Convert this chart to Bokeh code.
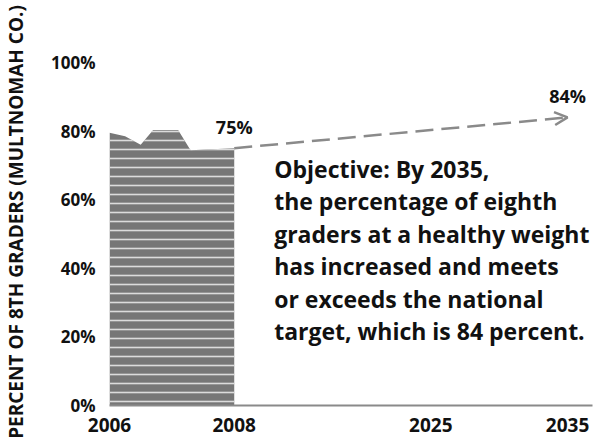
import numpy as np
from bokeh.plotting import figure
from bokeh.models import (FixedTicker, PrintfTickFormatter, Label, Arrow, OpenHead,
                          Range1d, ColumnDataSource)
from bokeh.embed import file_html
from bokeh.resources import INLINE

# ---- data ----
hist_years = [2006, 2006.25, 2006.5, 2006.7, 2007.1, 2007.3, 2008]
hist_values = [79.5, 78.5, 76.0, 80.3, 80.3, 74.4, 75.0]
target_years = [2008, 2035]
target_values = [75, 84]
tick_years = [2006, 2008, 2025, 2035]
y_ticks = [0, 20, 40, 60, 80, 100]
y_title = "PERCENT OF 8TH GRADERS (MULTNOMAH CO.)"
objective_lines = [
    "Objective: By 2035,",
    "the percentage of eighth",
    "graders at a healthy weight",
    "has increased and meets",
    "or exceeds the national",
    "target, which is 84 percent.",
]

# ---- non-linear axis layout (year -> axis position) ----
AXIS_STOPS = [0, 125, 322, 459]


def xpos(years):
    return np.interp(years, tick_years, AXIS_STOPS)


FONT = "Open Sans"
TXT = "#111111"
GRAY = "#777777"
LINE_GRAY = "#8a8a8a"

p = figure(width=596, height=441, output_backend="svg", toolbar_location=None,
           x_range=Range1d(0, 484), y_range=Range1d(0, 107),
           min_border_left=108, min_border_right=4, min_border_top=38,
           min_border_bottom=36)
p.outline_line_color = None
p.grid.visible = False
p.background_fill_color = "white"
p.border_fill_color = "white"

# historical area
src = ColumnDataSource(dict(x=xpos(hist_years), y=hist_values))
p.varea(x="x", y1=0, y2="y", source=src, fill_color=GRAY,
        hatch_pattern="horizontal_line", hatch_color="#dcdcdc",
        hatch_scale=9, hatch_weight=1.6)

# dashed target arrow
tx = xpos(target_years)
p.add_layout(Arrow(x_start=tx[0], y_start=target_values[0],
                   x_end=tx[1], y_end=target_values[1],
                   line_color=LINE_GRAY, line_width=2.5, line_dash="18 8",
                   end=OpenHead(size=13, line_color=LINE_GRAY, line_width=2.5)))

# value labels
for xv, yv in zip(tx, target_values):
    p.add_layout(Label(x=xv, y=yv, text=f"{yv}%", text_align="center",
                       text_baseline="alphabetic", y_offset=21,
                       text_font=FONT, text_font_style="bold",
                       text_font_size="18px", text_color=TXT))

# objective text
p.add_layout(Label(x=165, y=73.6, text="\n".join(objective_lines),
                   text_align="left", text_baseline="top",
                   text_font=FONT, text_font_style="bold",
                   text_font_size="23px", text_color=TXT,
                   text_line_height=1.013))

# axes
xa = p.xaxis[0]
xa.ticker = FixedTicker(ticks=AXIS_STOPS)
xa.major_label_overrides = {s: str(y) for s, y in zip(AXIS_STOPS, tick_years)}
xa.axis_line_color = LINE_GRAY
xa.axis_line_width = 2
xa.major_tick_line_color = None
xa.minor_tick_line_color = None
xa.major_label_standoff = 6
xa.major_label_text_font = FONT
xa.major_label_text_font_style = "bold"
xa.major_label_text_font_size = "19px"
xa.major_label_text_color = TXT

ya = p.yaxis[0]
ya.ticker = FixedTicker(ticks=y_ticks)
ya.formatter = PrintfTickFormatter(format="%d%%")
ya.axis_line_color = None
ya.major_tick_line_color = None
ya.minor_tick_line_color = None
ya.major_label_standoff = 8
ya.major_label_text_font = FONT
ya.major_label_text_font_style = "bold"
ya.major_label_text_font_size = "17px"
ya.major_label_text_color = TXT
ya.axis_label = y_title
ya.axis_label_standoff = 19
ya.axis_label_text_font = FONT
ya.axis_label_text_font_style = "bold"
ya.axis_label_text_font_size = "19px"
ya.axis_label_text_color = TXT

open("out.html", "w").write(file_html(p, INLINE))
